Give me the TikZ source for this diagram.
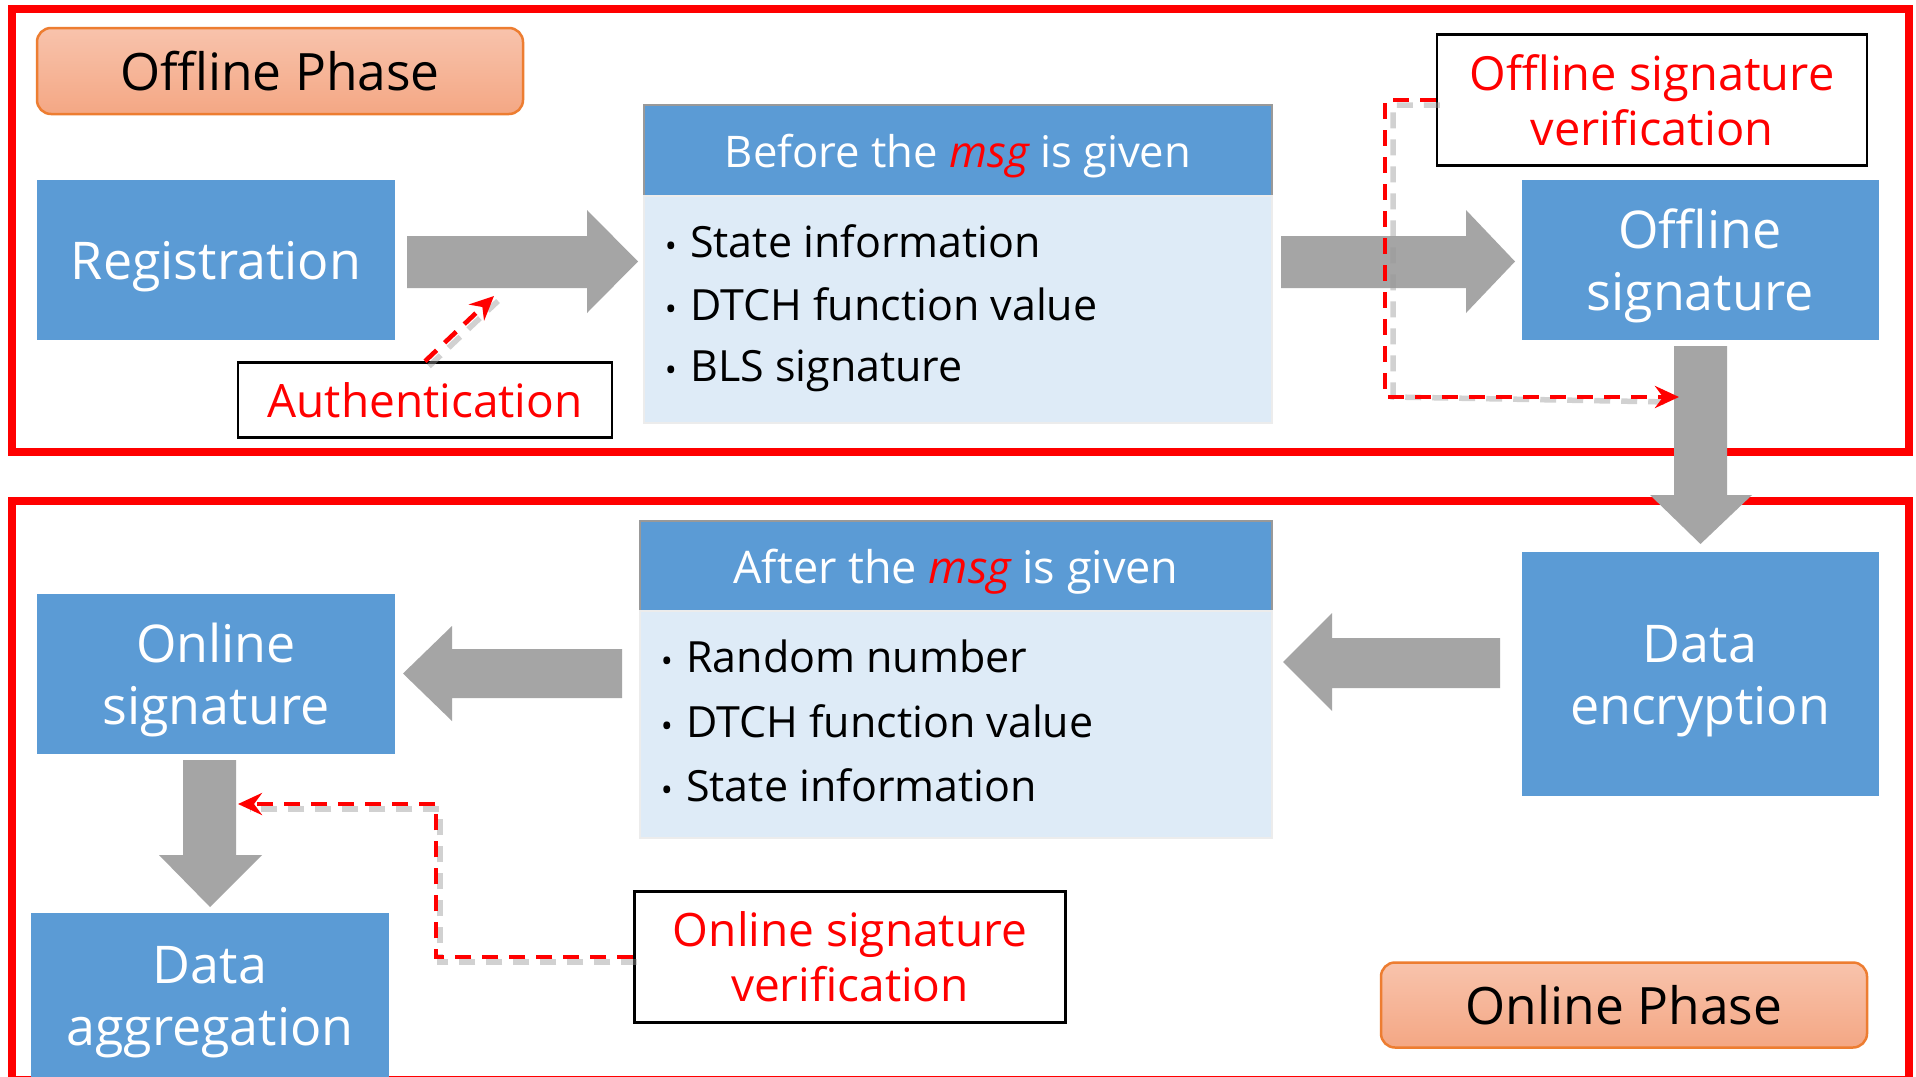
\documentclass[tikz,border=0pt]{standalone}
\usepackage{fontspec}
\setmainfont{Open Sans}
\usetikzlibrary{arrows.meta}
\definecolor{boxblue}{HTML}{5B9BD5}
\definecolor{bodyblue}{HTML}{DEEBF7}
\definecolor{arrowgray}{HTML}{A5A5A5}
\definecolor{phasetop}{HTML}{F8C3AC}
\definecolor{phasebot}{HTML}{F4A784}
\definecolor{phaseedge}{HTML}{ED7D31}
% centred lines, set a little lower than the box centre:
% extra empty height on top pushes the text down by #1
\newcommand\lowered[2][7pt]{\raisebox{0pt}[\dimexpr\height+#1+#1\relax]{\begin{tabular}{@{}c@{}}#2\end{tabular}}}
\begin{document}
\begin{tikzpicture}[x=1pt,y=-1pt,
  frame/.style={draw=red,line width=8pt},
  bluebox/.style={fill=boxblue,text=white,align=center,inner sep=0pt,
    font=\fontsize{52}{62}\selectfont},
  phase/.style={rounded corners=14pt,top color=phasetop,bottom color=phasebot,
    draw=phaseedge,line width=2.5pt,inner sep=0pt,font=\fontsize{51.5}{60}\selectfont},
  note/.style={draw=black,line width=2.5pt,fill=white,text=red,align=center,
    inner sep=0pt,font=\fontsize{46}{55}\selectfont},
  headbox/.style={fill=boxblue,draw=gray!80,line width=1.5pt,text=white,inner sep=0pt},
  bodybox/.style={fill=bodyblue,draw=gray!15,line width=2pt,inner sep=0pt},
  item/.style={anchor=base west,inner sep=0pt,font=\fontsize{43}{50}\selectfont},
  dot/.style={anchor=base,inner sep=0pt,font=\fontsize{32}{32}\selectfont},
  blockarrow/.style={fill=arrowgray},
  verify/.style={draw=red,line width=4.6pt,dash pattern=on 16pt off 11pt},
  vshadow/.style={draw=black!40,opacity=.45,line width=5.5pt,dash pattern=on 16pt off 11pt},
  tip/.style={-{Stealth[length=24pt,width=22pt,inset=8pt]}}
]
\useasboundingbox (0,0) rectangle (1916,1076);
\fill[white] (0,0) rectangle (1916,1076);

% phase frames
\draw[frame] (12,9) rectangle (1909,452);
\draw[frame] (12,501) rectangle (1909,1080);

% ---------- offline phase ----------
\node[phase,minimum width=486pt,minimum height=86pt] (offph) at (280,71) {\lowered{Offline Phase}};
\node[bluebox,minimum width=358pt,minimum height=160pt] (reg) at (216,260) {\lowered{Registration}};
\node[headbox,minimum width=628pt,minimum height=91pt,font=\fontsize{43.6}{50}\selectfont] (prehead) at (958,150.5)
  {\lowered{Before the {\color{red}\itshape msg} is given}};
\node[bodybox,minimum width=628pt,minimum height=227pt] (prebody) at (958,309.5) {};
\node[dot] (pb1) at (671,257) {•};
\node[item] (pi1) at (690,257) {State information};
\node[dot] (pb2) at (671,320) {•};
\node[item] (pi2) at (690,320) {DTCH function value};
\node[dot] (pb3) at (671,381) {•};
\node[item] (pi3) at (690,381) {BLS signature};
\node[bluebox,minimum width=357pt,minimum height=160pt] (offsig) at (1700,260) {\lowered{Offline\\signature}};
\node[note,minimum width=374pt,minimum height=75pt] (auth) at (425,400) {Authentication};
\node[note,minimum width=430pt,minimum height=131pt,font=\fontsize{47}{55}\selectfont] (offver) at (1652,100)
  {Offline signature\\verification};

% block arrows of the offline phase
\fill[blockarrow] (407,236) -- (587,236) -- (587,210) -- (638,261.5) -- (587,313) -- (587,288) -- (407,288) -- cycle;
\fill[blockarrow] (1281,236) -- (1466,236) -- (1466,210) -- (1515,261.5) -- (1466,313) -- (1466,288) -- (1281,288) -- cycle;
\fill[blockarrow] (1674,346) -- (1727,346) -- (1727,495) -- (1752,495) -- (1700.5,544) -- (1650,495) -- (1674,495) -- cycle;

% authentication check
\coordinate (authend) at (494,296);
\draw[vshadow] ([xshift=4pt,yshift=-5pt]auth.north) -- ([xshift=4pt,yshift=-5pt]authend);
\draw[verify,tip] (auth.north) -- (authend);

% offline signature verification
\coordinate (offend) at (1679,397);
\draw[vshadow] ([xshift=4pt,yshift=-5pt]offver.west) -| ([xshift=4pt]1389,397) -- ([xshift=-10pt,yshift=-5pt]offend);
\draw[verify,tip] (offver.west) -| (1385,397) -- (offend);

% ---------- online phase ----------
\node[bluebox,minimum width=357pt,minimum height=244pt] (enc) at (1700,674) {\lowered{Data\\encryption}};
\node[headbox,minimum width=632pt,minimum height=90pt,font=\fontsize{45}{50}\selectfont] (posthead) at (956,566)
  {\lowered{After the {\color{red}\itshape msg} is given}};
\node[bodybox,minimum width=632pt,minimum height=227pt] (postbody) at (956,724.5) {};
\node[dot] (qb1) at (667,672) {•};
\node[item] (qi1) at (686,672) {Random number};
\node[dot] (qb2) at (667,737) {•};
\node[item] (qi2) at (686,737) {DTCH function value};
\node[dot] (qb3) at (667,801) {•};
\node[item] (qi3) at (686,801) {State information};
\node[bluebox,minimum width=358pt,minimum height=160pt] (onsig) at (216,674) {\lowered{Online\\signature}};
\node[bluebox,minimum width=358pt,minimum height=164pt] (agg) at (210,995) {\lowered{Data\\aggregation}};
\node[note,minimum width=431pt,minimum height=131pt] (onver) at (850,957)
  {Online signature\\verification};
\node[phase,minimum width=486pt,minimum height=85pt] (onph) at (1624,1005) {Online Phase};

% block arrows of the online phase
\fill[blockarrow] (1500,638) -- (1332,638) -- (1332,613) -- (1283,662) -- (1332,711) -- (1332,688) -- (1500,688) -- cycle;
\fill[blockarrow] (622,649) -- (452,649) -- (452,626) -- (403,673.5) -- (452,721) -- (452,698) -- (622,698) -- cycle;
\fill[blockarrow] (183,760) -- (236,760) -- (236,855) -- (262,855) -- (210,907) -- (159,855) -- (183,855) -- cycle;

% online signature verification
\coordinate (onend) at (238,804);
\draw[vshadow] ([xshift=4pt,yshift=-5pt]onver.west) -| ([xshift=4pt,yshift=-5pt]436,804) -- ([xshift=12pt,yshift=-5pt]onend);
\draw[verify,tip] (onver.west) -| (436,804) -- (onend);
\end{tikzpicture}
\end{document}
